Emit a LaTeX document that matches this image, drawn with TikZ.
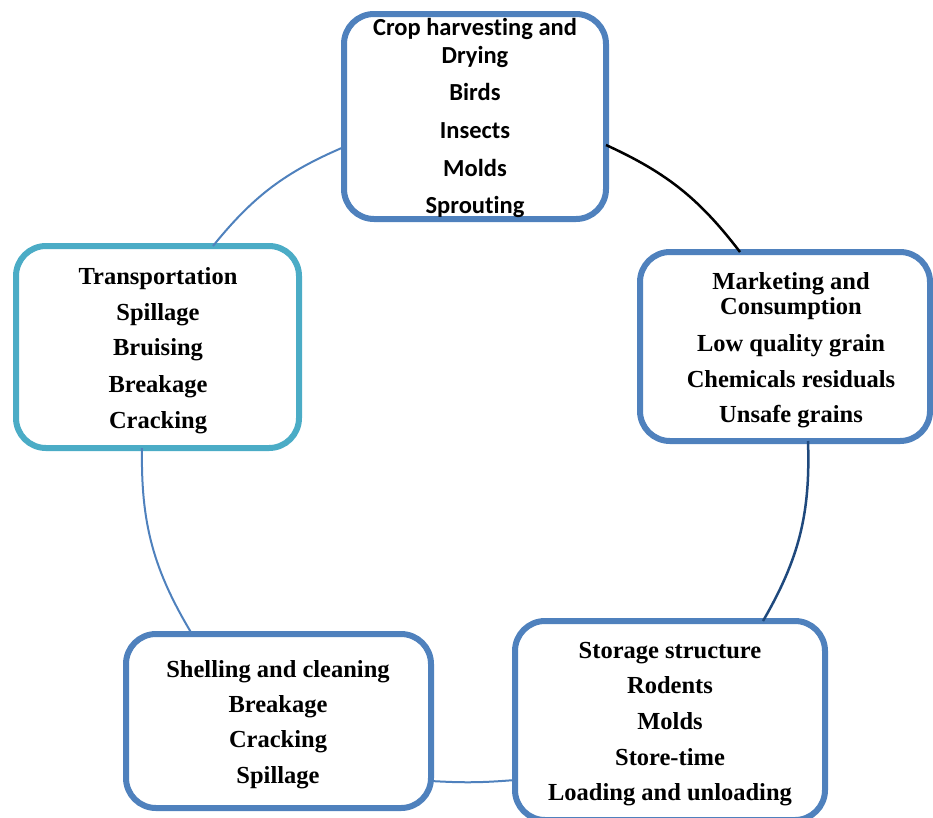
\documentclass[tikz,border=0pt]{standalone}
\usepackage{fontspec}
\setmainfont{Liberation Serif}
\newfontfamily\cfont[Ligatures=CommonOff]{Carlito}
\definecolor{boxblue}{HTML}{4F81BD}
\definecolor{boxcyan}{HTML}{4BACC6}
\definecolor{navyline}{HTML}{1F497D}
\begin{document}
\begin{tikzpicture}[x=1pt,y=-1pt,
  box/.style={draw=boxblue, fill=white, line width=6pt, rounded corners=30pt, inner sep=0pt, outer sep=0pt},
  lbl/.style={anchor=base, inner sep=0pt, font=\fontsize{24.5}{25}\selectfont\bfseries},
  clbl/.style={anchor=base, inner sep=0pt, font=\fontsize{24.5}{25}\selectfont\cfont\bfseries},
  conn/.style={line width=2pt, draw=boxblue}]
\useasboundingbox (0,0) rectangle (933,817);
% boxes
\node[box, minimum width=262pt, minimum height=205pt] (top) at (475,116.5) {};
\node[box, minimum width=290pt, minimum height=189pt] (right) at (785,346.5) {};
\node[box, draw=boxcyan, minimum width=283pt, minimum height=202pt] (left) at (157.5,347) {};
\node[box, minimum width=305pt, minimum height=174pt] (shell) at (278.5,721) {};
\node[box, minimum width=310pt, minimum height=199pt] (store) at (670,720.5) {};
% connectors
\draw[conn] ([yshift=-30.5pt]top.west) to[bend right=14] ([xshift=55.5pt]left.north);
\draw[conn, draw=black, line width=2.5pt] ([yshift=-28.5pt]top.east) to[bend left=14] ([xshift=-45pt]right.north);
\draw[conn, draw=navyline, line width=2.5pt] ([xshift=23pt]right.south) to[bend left=16] ([xshift=93pt]store.north);
\draw[conn] ([yshift=-59.5pt]store.west) to[bend left=4] ([yshift=-60pt]shell.east);
\draw[conn] ([xshift=-86.5pt]shell.north) to[bend left=16] ([xshift=-15.5pt]left.south);
% top box text
\node[clbl] (t1) at (475,35) {Crop harvest\kern0pt ing and};
\node[clbl] (t2) at (475,63) {Drying};
\node[clbl] (t3) at (475,100) {Birds};
\node[clbl] (t4) at (475,138) {Insects};
\node[clbl] (t5) at (475,176) {Molds};
\node[clbl] (t6) at (475,213) {Sprout\kern0pt ing};
% right box text
\node[lbl] (r1) at (791,289) {Marketing and};
\node[lbl] (r2) at (791,314) {Consumption};
\node[lbl] (r3) at (791,351) {Low quality grain};
\node[lbl] (r4) at (791,387) {Chemicals residuals};
\node[lbl] (r5) at (791,422) {Unsafe grains};
% left box text
\node[lbl] (l1) at (158,284) {Transportation};
\node[lbl] (l2) at (158,320) {Spillage};
\node[lbl] (l3) at (158,355) {Bruising};
\node[lbl] (l4) at (158,392) {Breakage};
\node[lbl] (l5) at (158,428) {Cracking};
% shelling text
\node[lbl] (s1) at (278,677) {Shelling and cleaning};
\node[lbl] (s2) at (278,712) {Breakage};
\node[lbl] (s3) at (278,747) {Cracking};
\node[lbl] (s4) at (278,783) {Spillage};
% storage text
\node[lbl] (g1) at (670,658) {Storage structure};
\node[lbl] (g2) at (670,693) {Rodents};
\node[lbl] (g3) at (670,729) {Molds};
\node[lbl] (g4) at (670,765) {Store-time};
\node[lbl] (g5) at (670,800) {Loading and unloading};
\end{tikzpicture}
\end{document}
